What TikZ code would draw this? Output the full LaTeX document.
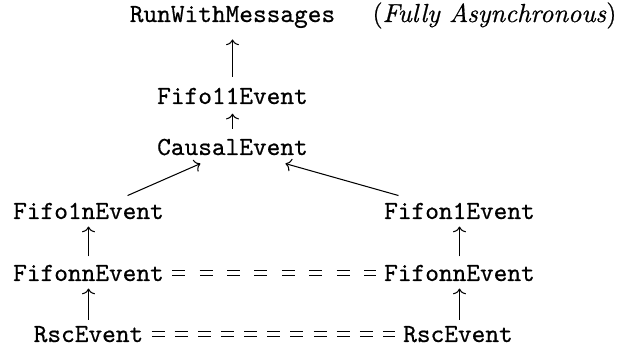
\documentclass[tikz,border=0pt]{standalone}
\usepackage{fontspec}
\setmainfont{Latin Modern Roman}[FakeBold=0.6]
\setmonofont{Latin Modern Mono}[FakeBold=0.6]
\usetikzlibrary{calc,arrows.meta}
\tikzset{
  tt/.style={font=\ttfamily, inner sep=0pt, text height=6.1pt, text depth=0pt, anchor=base},
  arr/.style={-{To[length=2.2pt,width=5pt]}, line width=0.4pt},
  dbl/.style={double, double distance=1.6pt, line width=0.4pt, shorten <=3pt, shorten >=3pt},
}
\begin{document}
\begin{tikzpicture}[x=0.3835pt, y=-0.3835pt]
\useasboundingbox (0,0) rectangle (618,354);
% nodes
\node[tt] (run) at (232.5,22) {RunWithMessages};
\node[inner sep=0pt, anchor=base west] (fa) at (372,22) {(\textit{Fully Asynchronous})};
\node[tt] (f11) at (232.5,104) {Fifo11Event};
\node[tt] (causal) at (232.5,155) {CausalEvent};
\node[tt] (f1n) at (88.5,219) {Fifo1nEvent};
\node[tt] (fn1) at (459.5,219) {Fifon1Event};
\node[tt] (fnnl) at (88.5,281) {FifonnEvent};
\node[tt] (fnnr) at (459.5,281) {FifonnEvent};
\node[tt] (rscl) at (88.5,342) {RscEvent};
\node[tt] (rscr) at (458,342) {RscEvent};
% dashed double connectors
\draw[dbl, dash pattern=on 5pt off 5.52pt] (fnnl.east) -- (fnnr.west);
\draw[dbl, dash pattern=on 5pt off 3.87pt] (rscl.east) -- (rscr.west);
% arrows
\draw[arr, shorten <=4.2pt, shorten >=6.5pt] (f11.north) -- (run.south);
\draw[arr, shorten <=3.8pt, shorten >=3.5pt] (causal.north) -- (f11.south);
\draw[arr] ([shift={(15.0pt,2.7pt)}]f1n.north) -- ([shift={(-12.3pt,-3.1pt)}]causal.south);
\draw[arr] ([shift={(-23.4pt,2.7pt)}]fn1.north) -- ([shift={(20.3pt,-3.1pt)}]causal.south);
\draw[arr, shorten <=3.1pt, shorten >=2.7pt] (fnnl.north) -- (f1n.south);
\draw[arr, shorten <=3.1pt, shorten >=2.7pt] (fnnr.north) -- (fn1.south);
\draw[arr, shorten <=2.3pt, shorten >=2.7pt] (rscl.north) -- (fnnl.south);
\draw[arr, shorten <=2.3pt, shorten >=2.7pt] (rscr.north -| fnnr.south) -- (fnnr.south);
\end{tikzpicture}
\end{document}
